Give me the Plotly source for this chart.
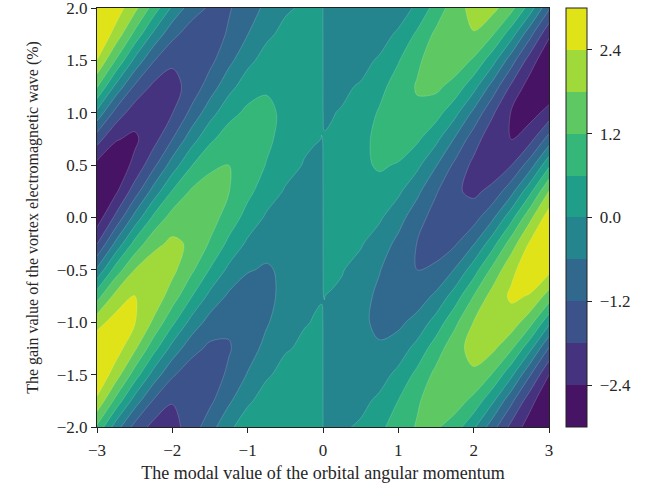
import plotly.graph_objects as go

# modal value of orbital angular momentum (x) and gain value (y) grid
x_values = [-3.0, -2.75, -2.5, -2.25, -2.0, -1.75, -1.5, -1.25, -1.0, -0.75, -0.5, -0.25, -0.125, -0.02,
            0.02, 0.125, 0.25, 0.5, 0.75, 1.0, 1.25, 1.5, 1.75, 2.0, 2.25, 2.5, 2.75, 3.0]
y_values = [-2.0, -1.75, -1.5, -1.25, -1.0, -0.75, -0.5, -0.25, 0.0,
            0.25, 0.5, 0.75, 1.0, 1.25, 1.5, 1.75, 2.0]

# values (rows follow y_values, columns follow x_values)
row_y_m200 = [1.11, -0.30, -1.40, -1.99, -2.00, -1.55, -0.84, -0.14, 0.37, 0.57, 0.49, 0.24, 0.1088, 0.0150, -0.0140, -0.0674, -0.08, 0.08, 0.45, 0.91, 1.25, 1.29, 0.90, 0.11, -0.95, -1.99, -2.71, -2.84]
row_y_m175 = [2.29, 1.02, -0.27, -1.26, -1.77, -1.75, -1.33, -0.70, -0.11, 0.28, 0.38, 0.24, 0.1250, 0.0195, -0.0190, -0.1088, -0.18, -0.16, 0.12, 0.61, 1.13, 1.50, 1.50, 1.03, 0.12, -1.05, -2.19, -2.96]
row_y_m150 = [2.93, 2.10, 0.93, -0.24, -1.12, -1.55, -1.50, -1.10, -0.56, -0.08, 0.19, 0.19, 0.1120, 0.0194, -0.0197, -0.1250, -0.24, -0.36, -0.24, 0.16, 0.76, 1.36, 1.75, 1.71, 1.16, 0.14, -1.16, -2.39]
row_y_m125 = [2.89, 2.69, 1.91, 0.83, -0.22, -0.98, -1.33, -1.25, -0.88, -0.42, -0.05, 0.09, 0.0729, 0.0147, -0.0157, -0.1120, -0.24, -0.48, -0.54, -0.32, 0.20, 0.91, 1.59, 2.00, 1.93, 1.29, 0.15, -1.26]
row_y_m100 = [2.18, 2.65, 2.44, 1.71, 0.74, -0.19, -0.84, -1.10, -1.00, -0.66, -0.28, -0.03, 0.0169, 0.0067, -0.0081, -0.0729, -0.19, -0.49, -0.72, -0.73, -0.40, 0.24, 1.06, 1.82, 2.25, 2.14, 1.42, 0.16]
row_y_m075 = [0.96, 2.00, 2.41, 2.20, 1.52, 0.65, -0.16, -0.70, -0.88, -0.75, -0.44, -0.14, -0.0431, -0.0029, 0.0014, -0.0169, -0.09, -0.38, -0.73, -0.96, -0.91, -0.48, 0.28, 1.21, 2.04, 2.50, 2.36, 1.55]
row_y_m050 = [-0.49, 0.88, 1.81, 2.17, 1.95, 1.33, 0.56, -0.14, -0.56, -0.66, -0.50, -0.22, -0.0931, -0.0119, 0.0106, 0.0431, 0.03, -0.19, -0.57, -0.98, -1.20, -1.09, -0.56, 0.32, 1.36, 2.27, 2.75, 2.57]
row_y_m025 = [-1.82, -0.45, 0.80, 1.63, 1.93, 1.71, 1.14, 0.46, -0.11, -0.42, -0.44, -0.25, -0.1213, -0.0180, 0.0173, 0.0931, 0.14, 0.05, -0.28, -0.76, -1.22, -1.45, -1.27, -0.64, 0.36, 1.51, 2.50, 2.99]
row_y_000 = [-2.72, -1.66, -0.40, 0.72, 1.45, 1.69, 1.46, 0.95, 0.37, -0.08, -0.28, -0.22, -0.1213, -0.0200, 0.0200, 0.1213, 0.22, 0.28, 0.08, -0.37, -0.95, -1.46, -1.69, -1.45, -0.72, 0.40, 1.66, 2.72]
row_y_p025 = [-2.99, -2.50, -1.51, -0.36, 0.64, 1.27, 1.45, 1.22, 0.76, 0.28, -0.05, -0.14, -0.0931, -0.0173, 0.0180, 0.1213, 0.25, 0.44, 0.42, 0.11, -0.46, -1.14, -1.71, -1.93, -1.63, -0.80, 0.45, 1.82]
row_y_p050 = [-2.57, -2.75, -2.27, -1.36, -0.32, 0.56, 1.09, 1.20, 0.98, 0.57, 0.19, -0.03, -0.0431, -0.0106, 0.0119, 0.0931, 0.22, 0.50, 0.66, 0.56, 0.14, -0.56, -1.33, -1.95, -2.17, -1.81, -0.88, 0.49]
row_y_p075 = [-1.55, -2.36, -2.50, -2.04, -1.21, -0.28, 0.48, 0.91, 0.96, 0.73, 0.38, 0.09, 0.0169, -0.0014, 0.0029, 0.0431, 0.14, 0.44, 0.75, 0.88, 0.70, 0.16, -0.65, -1.52, -2.20, -2.41, -2.00, -0.96]
row_y_p100 = [-0.16, -1.42, -2.14, -2.25, -1.82, -1.06, -0.24, 0.40, 0.73, 0.72, 0.49, 0.19, 0.0729, 0.0081, -0.0067, -0.0169, 0.03, 0.28, 0.66, 1.00, 1.10, 0.84, 0.19, -0.74, -1.71, -2.44, -2.65, -2.18]
row_y_p125 = [1.26, -0.15, -1.29, -1.93, -2.00, -1.59, -0.91, -0.20, 0.32, 0.54, 0.48, 0.24, 0.1120, 0.0157, -0.0147, -0.0729, -0.09, 0.05, 0.42, 0.88, 1.25, 1.33, 0.98, 0.22, -0.83, -1.91, -2.69, -2.89]
row_y_p150 = [2.39, 1.16, -0.14, -1.16, -1.71, -1.75, -1.36, -0.76, -0.16, 0.24, 0.36, 0.24, 0.1250, 0.0197, -0.0194, -0.1120, -0.19, -0.19, 0.08, 0.56, 1.10, 1.50, 1.55, 1.12, 0.24, -0.93, -2.10, -2.93]
row_y_p175 = [2.96, 2.19, 1.05, -0.12, -1.03, -1.50, -1.50, -1.13, -0.61, -0.12, 0.16, 0.18, 0.1088, 0.0190, -0.0195, -0.1250, -0.24, -0.38, -0.28, 0.11, 0.70, 1.33, 1.75, 1.77, 1.26, 0.27, -1.02, -2.29]
row_y_p200 = [2.84, 2.71, 1.99, 0.95, -0.11, -0.90, -1.29, -1.25, -0.91, -0.45, -0.08, 0.08, 0.0674, 0.0140, -0.0150, -0.1088, -0.24, -0.49, -0.57, -0.37, 0.14, 0.84, 1.55, 2.00, 1.99, 1.40, 0.30, -1.11]

z_rows = [row_y_m200, row_y_m175, row_y_m150, row_y_m125, row_y_m100, row_y_m075,
          row_y_m050, row_y_m025, row_y_000, row_y_p025, row_y_p050, row_y_p075,
          row_y_p100, row_y_p125, row_y_p150, row_y_p175, row_y_p200]

level_start, level_end, level_step = -3.0, 3.0, 0.6
colorbar_ticks = [-2.4, -1.2, 0.0, 1.2, 2.4]
x_ticks = [-3, -2, -1, 0, 1, 2, 3]
y_ticks = [-2.0, -1.5, -1.0, -0.5, 0.0, 0.5, 1.0, 1.5, 2.0]

band_colors = ['#471365', '#46337f', '#3b528b', '#31688e', '#25858e',
               '#1f9e89', '#35b779', '#5ec962', '#9fda3a', '#dfe318']

n_bands = len(band_colors)
# contour fill colours are sampled at band midpoints -> positions (i+1)/(n+1)
fill_scale = [[0.0, band_colors[0]]]
for i, c in enumerate(band_colors):
    fill_scale.append([(i + 1) / (n_bands + 1), c])
fill_scale.append([1.0, band_colors[-1]])

# stepped scale for the colour bar (range -3..3, one block per band)
step_scale = []
for i, c in enumerate(band_colors):
    step_scale.append([i / n_bands, c])
    step_scale.append([(i + 1) / n_bands, c])


def fmt(v):
    s = f"{abs(v):.1f}"
    return ("\u2212" + s) if v < 0 else s


serif = "Liberation Serif, Times New Roman, serif"
ink = "#262626"

fig = go.Figure()
fig.add_trace(go.Contour(
    x=x_values, y=y_values, z=z_rows,
    autocontour=False,
    contours=dict(start=level_start, end=level_end, size=level_step, coloring='fill'),
    colorscale=fill_scale,
    line=dict(width=0.6, color='rgba(255,255,255,0.28)', smoothing=1.0),
    hoverinfo='skip',
    showscale=False,
))
fig.add_trace(go.Scatter(
    x=[None], y=[None], mode='markers', showlegend=False, hoverinfo='skip',
    marker=dict(
        color=[0.0], cmin=level_start, cmax=level_end, colorscale=step_scale,
        showscale=True,
        colorbar=dict(
            x=1.0376, xanchor='left', xpad=0, ypad=0,
            y=0.5, yanchor='middle', len=1.0, lenmode='fraction',
            thickness=21, thicknessmode='pixels',
            outlinecolor='#222', outlinewidth=1,
            tickmode='array', tickvals=colorbar_ticks,
            ticktext=["\u00a0" + fmt(v) for v in colorbar_ticks],
            ticks='outside', ticklen=5, tickwidth=1, tickcolor='#222',
            tickfont=dict(family=serif, size=17, color=ink),
        ),
    ),
))

fig.update_layout(
    width=656, height=491,
    margin=dict(l=97, r=107, t=8, b=64, autoexpand=False),
    paper_bgcolor='white', plot_bgcolor='white',
    showlegend=False,
    font=dict(family=serif, color=ink),
)
fig.update_xaxes(
    range=[-3, 3], tickmode='array', tickvals=x_ticks,
    ticktext=[("\u2212" + str(abs(v))) if v < 0 else str(v) for v in x_ticks],
    ticks='outside', ticklen=5, tickwidth=1, tickcolor='#222',
    ticklabeloverflow='allow', ticklabelstandoff=3, automargin=False,
    showline=True, linecolor='#222', linewidth=1, mirror=True,
    showgrid=False, zeroline=False,
    tickfont=dict(family=serif, size=17, color=ink),
    title=dict(text='The modal value of the orbital angular momentum',
               font=dict(family=serif, size=18, color=ink), standoff=6),
)
fig.update_yaxes(
    range=[-2, 2], tickmode='array', tickvals=y_ticks,
    ticktext=[fmt(v) for v in y_ticks],
    ticks='outside', ticklen=5, tickwidth=1, tickcolor='#222',
    ticklabeloverflow='allow', automargin=False,
    showline=True, linecolor='#222', linewidth=1, mirror=True,
    showgrid=False, zeroline=False,
    tickfont=dict(family=serif, size=17, color=ink),
    title=dict(text='The gain value of the vortex electromagnetic wave (%)',
               font=dict(family=serif, size=16, color=ink), standoff=14),
)

fig.write_html("out.html")
